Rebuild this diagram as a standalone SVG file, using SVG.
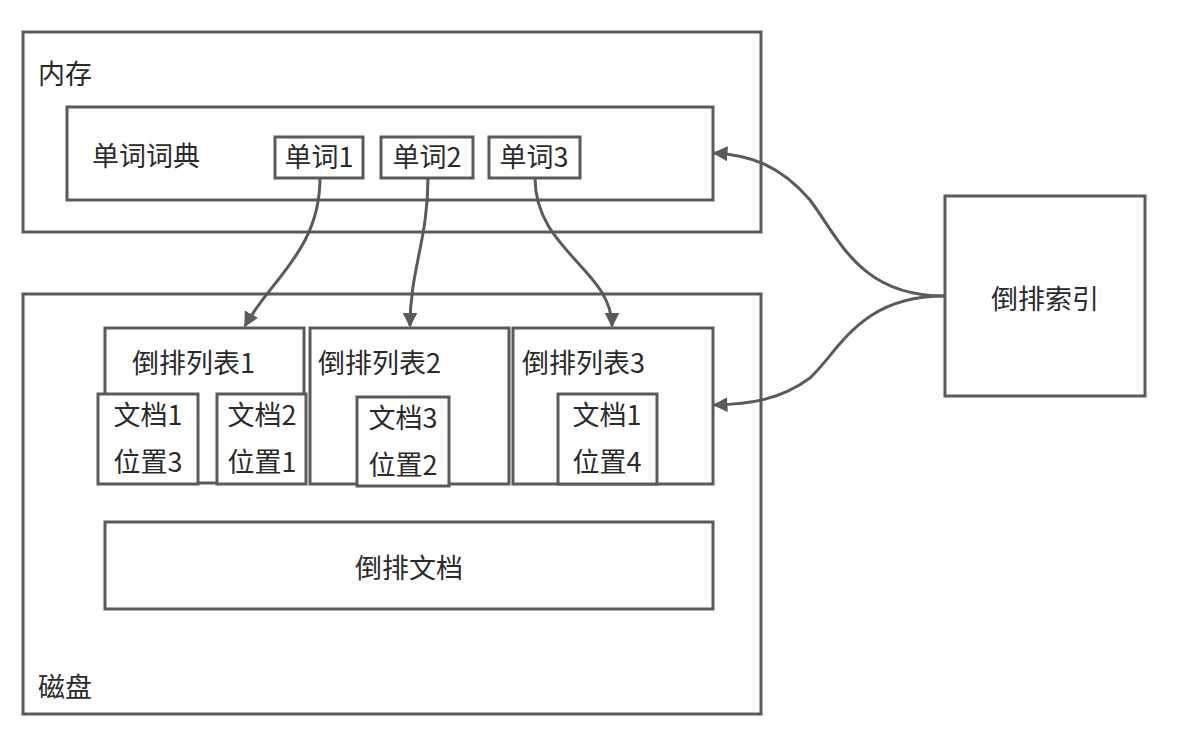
<svg xmlns="http://www.w3.org/2000/svg" width="1180" height="754" viewBox="0 0 1180 754">
<defs>
<style>
.b{fill:#fff;stroke:#5a5a5a;stroke-width:3}
.t{font-family:"Noto Sans CJK SC","Liberation Sans",sans-serif;font-size:27px;fill:#2a2a2a}
.m{text-anchor:middle}
.c{fill:none;stroke:#5a5a5a;stroke-width:3}
</style>
<marker id="ah" viewBox="0 0 10 10" refX="9" refY="5" markerWidth="5" markerHeight="5" orient="auto" markerUnits="strokeWidth">
<path d="M0,0 L10,5 L0,10 Z" fill="#5a5a5a"/>
</marker>
</defs>
<rect width="1180" height="754" fill="#fff"/>
<g id="memory">
<rect class="b" x="23" y="32" width="738" height="200"/>
<text class="t" x="38" y="84">内存</text>
</g>
<g id="dict">
<rect class="b" x="67" y="107" width="646" height="93"/>
<text class="t" x="92" y="166">单词词典</text>
</g>
<g id="word1"><rect class="b" x="275" y="137" width="88" height="41"/><text class="t m" x="319" y="167">单词1</text></g>
<g id="word2"><rect class="b" x="381" y="137" width="92" height="41"/><text class="t m" x="427" y="167">单词2</text></g>
<g id="word3"><rect class="b" x="489" y="137" width="91" height="41"/><text class="t m" x="534" y="167">单词3</text></g>
<g id="disk">
<rect class="b" x="23" y="294" width="738" height="420"/>
<text class="t" x="38" y="697">磁盘</text>
</g>
<g id="list1">
<rect class="b" x="105" y="328" width="199" height="155"/>
<text class="t" x="132" y="373">倒排列表1</text>
</g>
<g id="list2">
<rect class="b" x="310" y="328" width="199" height="156"/>
<text class="t" x="318" y="373">倒排列表2</text>
</g>
<g id="list3">
<rect class="b" x="513" y="328" width="200" height="156"/>
<text class="t" x="522" y="373">倒排列表3</text>
</g>
<g id="p1"><rect class="b" x="98" y="394" width="100" height="90"/><text class="t m" x="148" y="425">文档1</text><text class="t m" x="148" y="472">位置3</text></g>
<g id="p2"><rect class="b" x="217" y="394" width="89" height="90"/><text class="t m" x="262" y="425">文档2</text><text class="t m" x="262" y="472">位置1</text></g>
<g id="p3"><rect class="b" x="357" y="397" width="92" height="89"/><text class="t m" x="403" y="428">文档3</text><text class="t m" x="403" y="475">位置2</text></g>
<g id="p4"><rect class="b" x="558" y="394" width="99" height="90"/><text class="t m" x="607" y="425">文档1</text><text class="t m" x="607" y="472">位置4</text></g>
<g id="docs">
<rect class="b" x="105" y="522" width="608" height="87"/>
<text class="t m" x="409" y="578">倒排文档</text>
</g>
<g id="index">
<rect class="b" x="945" y="196" width="200" height="200"/>
<text class="t m" x="1045" y="309">倒排索引</text>
</g>
<g id="connectors">
<path class="c" d="M320,178 C320,250 270,280 245,326" marker-end="url(#ah)"/>
<path class="c" d="M428,178 C428,240 410,270 410,326" marker-end="url(#ah)"/>
<path class="c" d="M535,178 C535,250 612,270 612,326" marker-end="url(#ah)"/>
<path class="c" d="M944,296 C860,296 840,240 810,200 C780,165 750,155 714,153" marker-end="url(#ah)"/>
<path class="c" d="M944,296 C860,296 840,350 810,378 C780,400 750,404 714,405" marker-end="url(#ah)"/>
</g>
</svg>
